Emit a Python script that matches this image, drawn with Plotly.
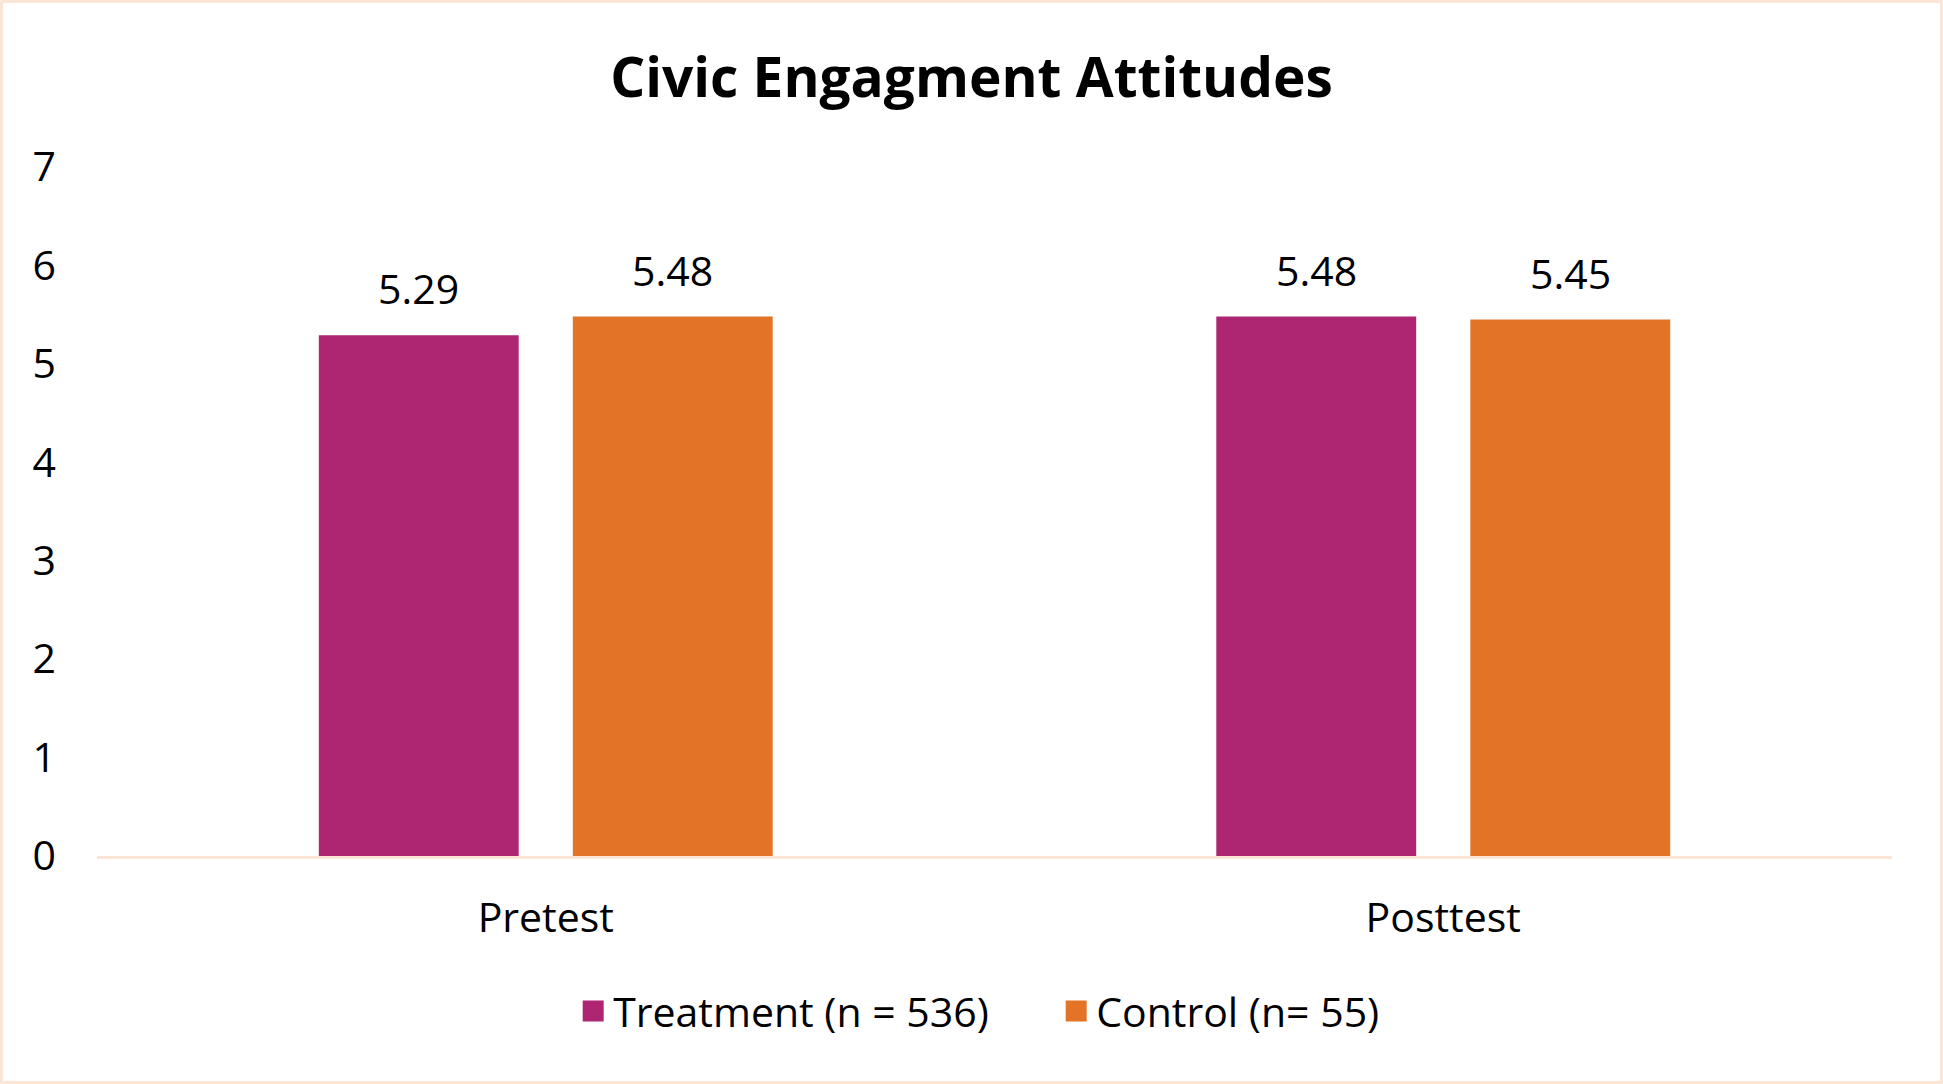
#
# Civic engagement attitudes: pretest vs posttest, treatment vs control
#
import plotly.graph_objects as go

# data
phases = ["Pretest", "Posttest"]
groups = ["Treatment (n = 536)", "Control (n= 55)"]
treatment = [5.29, 5.48]
control = [5.48, 5.45]
y_ticks = [0, 1, 2, 3, 4, 5, 6, 7]

colors = ["#AE2572", "#E37427"]
peach = "#FBE5D6"
font = "Open Sans"

W, H = 1943, 1084
ml, mr, mt, mb = 97, 51, 167, 228
plot_w = W - ml - mr
plot_h = H - mt - mb

fig = go.Figure()

for name, vals, col in zip(groups, [treatment, control], colors):
    fig.add_trace(go.Bar(x=phases, y=vals, name=name, marker_color=col,
                         marker_line_width=0, showlegend=False))
    # legend entry with a bigger square than the bar legend gives
    fig.add_trace(go.Scatter(x=[None], y=[None], mode="markers", name=name,
                             marker=dict(symbol="square", size=16, color=col,
                                         line=dict(width=5, color=col))))

#
# value labels above the bars
#
slot = 254  # px, half of a category group
for vals, shift in [(treatment, -slot / 2), (control, slot / 2)]:
    for ph, v in zip(phases, vals):
        fig.add_annotation(x=ph, y=v, text=f"{v:.2f}", showarrow=False,
                           xshift=shift, yshift=17, yanchor="bottom",
                           font=dict(family=font, size=41, color="black"))

# chart border
fig.add_shape(type="rect", xref="paper", yref="paper",
              x0=(-ml + 1.5) / plot_w, x1=(W - ml - 1.5) / plot_w,
              y0=(-mb + 1.5) / plot_h, y1=(H - mb - 1.5) / plot_h,
              line=dict(color=peach, width=3), layer="below")

fig.update_layout(
    width=W, height=H,
    margin=dict(l=ml, r=mr, t=mt, b=mb, pad=0),
    paper_bgcolor="white", plot_bgcolor="white",
    font=dict(family=font, size=41, color="black"),
    title=dict(text="<b>Civic Engagment Attitudes</b>", x=0.5, xanchor="center",
               xref="container", yref="container", y=0.928, yanchor="middle",
               font=dict(family=font, size=55, color="black")),
    barmode="group", bargap=0.434, bargroupgap=0.213,
    legend=dict(orientation="h", x=0.2950, xanchor="left", xref="container",
                y=0.067, yanchor="middle", yref="container",
                entrywidth=438, entrywidthmode="pixels",
                font=dict(family=font, size=41, color="black"),
                itemsizing="trace"),
)
fig.update_xaxes(showline=True, linecolor=peach, linewidth=3, ticks="",
                 showgrid=False, ticklabelstandoff=24, zeroline=False)
fig.update_yaxes(range=[0, 7], tickvals=y_ticks, showgrid=False, zeroline=False,
                 showline=False, ticks="", ticklabelstandoff=40)

# the page body has a default margin; drop it so the chart fills the window
fig.write_html("out.html", config={"displayModeBar": False},
               post_script="document.body.style.margin = '0';")
